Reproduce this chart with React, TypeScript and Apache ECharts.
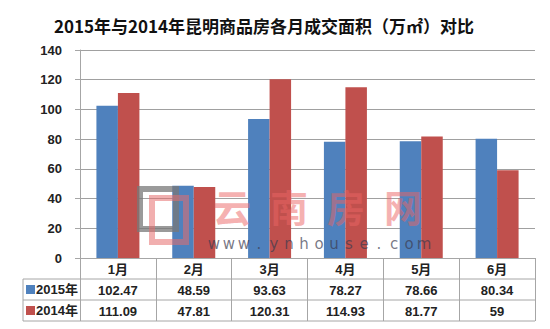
import React, { useEffect, useRef } from "react";
import * as echarts from "echarts";

const months = ["1月", "2月", "3月", "4月", "5月", "6月"];
const seriesNames = ["2015年", "2014年"];
const values2015 = [102.47, 48.59, 93.63, 78.27, 78.66, 80.34];
const values2014 = [111.09, 47.81, 120.31, 114.93, 81.77, 59];
const yTicks = [0, 20, 40, 60, 80, 100, 120, 140];
const titleText = "2015年与2014年昆明商品房各月成交面积（万㎡）对比";
const colors = ["#4F81BD", "#C0504D"];

export default function App() {
  const ref = useRef<HTMLDivElement>(null);
  useEffect(() => {
    if (!ref.current) return;
    const chart = echarts.init(ref.current, undefined, { renderer: "svg" });
    const L = 80, R = 535, T = 50, B = 258;
    const rowH = 21;
    const font = "'Liberation Sans', 'Noto Sans CJK SC', sans-serif";
    const border = "#a6a6a6";
    const graphics: any[] = [];
    [B + rowH, B + 2 * rowH, B + 3 * rowH].forEach((y) => {
      graphics.push({ type: "line", shape: { x1: 23, y1: y, x2: R, y2: y }, style: { stroke: border, lineWidth: 1 }, silent: true });
    });
    graphics.push({ type: "line", shape: { x1: 23, y1: B + rowH, x2: 23, y2: B + 3 * rowH }, style: { stroke: border, lineWidth: 1 } });
    seriesNames.forEach((n, i) => {
      const cy = B + rowH * (i + 1) + rowH / 2;
      graphics.push({ type: "rect", shape: { x: 26, y: cy - 4.5, width: 9, height: 9 }, style: { fill: colors[i] } });
      graphics.push({ type: "text", x: 36, y: cy, style: { text: n, font: `bold 13px ${font}`, fill: "#222", verticalAlign: "middle", textAlign: "left" } });
    });
    // watermark
    graphics.push({ type: "rect", shape: { x: 140, y: 189, width: 36, height: 40 }, style: { fill: "none", stroke: "rgba(120,120,120,0.75)", lineWidth: 6 }, z: 20 });
    graphics.push({ type: "rect", shape: { x: 152, y: 198, width: 34, height: 44 }, style: { fill: "none", stroke: "rgba(230,110,110,0.55)", lineWidth: 6 }, z: 21 });
    "云南房网".split("").forEach((c, i) => {
      graphics.push({ type: "text", x: 232 + i * 57, y: 205, style: { text: c, font: `bold 38px 'Noto Sans CJK SC', sans-serif`, fill: "rgba(235,100,100,0.5)", textAlign: "center", verticalAlign: "middle" }, z: 20 });
    });
    "www.ynhouse.com".split("").forEach((c, i) => {
      graphics.push({ type: "text", x: 214 + i * 15, y: 244, style: { text: c, font: `15px 'DejaVu Sans', sans-serif`, fill: "rgba(60,60,80,0.7)", textAlign: "center", verticalAlign: "middle" }, z: 20 });
    });

    const tableAxis = (data: string[], offset: number) => ({
      type: "category",
      data,
      position: "bottom",
      offset,
      gridIndex: 0,
      axisLine: { show: false },
      axisTick: { show: false },
      axisLabel: { interval: 0, margin: 5, fontSize: 13, fontWeight: "bold", color: "#222", fontFamily: font },
    });

    chart.setOption({
      animation: false,
      backgroundColor: "#ffffff",
      title: {
        text: titleText,
        left: 259,
        textAlign: "center",
        top: 12,
        textStyle: { fontSize: 17, fontWeight: "bold", color: "#111", fontFamily: "'Noto Sans CJK SC', sans-serif" },
      },
      grid: { left: L, right: 550 - R, top: T, bottom: 329 - B },
      xAxis: [
        {
          type: "category",
          data: months,
          axisLine: { show: true, lineStyle: { color: border } },
          axisTick: { show: true, length: 3 * rowH, interval: 0, lineStyle: { color: border } },
          axisLabel: { interval: 0, margin: 5, fontSize: 13, fontWeight: "bold", color: "#222", fontFamily: font },
        },
        tableAxis(values2015.map(String), rowH),
        tableAxis(values2014.map(String), rowH * 2),
      ],
      yAxis: {
        type: "value",
        min: 0,
        max: 140,
        interval: 20,
        axisLine: { show: true, lineStyle: { color: border } },
        axisTick: { show: true, length: 5, lineStyle: { color: border } },
        axisLabel: { margin: 18, fontSize: 13, fontWeight: "bold", color: "#222", fontFamily: font, formatter: (v: number) => (yTicks.includes(v) ? String(v) : "") },
        splitLine: { show: true, lineStyle: { color: "#a0a0a0", width: 1 } },
      },
      series: [
        { name: seriesNames[0], type: "bar", data: values2015, barWidth: 21.5, barGap: "0%", itemStyle: { color: colors[0] } },
        { name: seriesNames[1], type: "bar", data: values2014, barWidth: 21.5, barGap: "0%", itemStyle: { color: colors[1] } },
      ],
      graphic: graphics,
    });
    return () => chart.dispose();
  }, []);
  return <div ref={ref} style={{ position: "fixed", left: 0, top: 0, width: 550, height: 329 }} />;
}
